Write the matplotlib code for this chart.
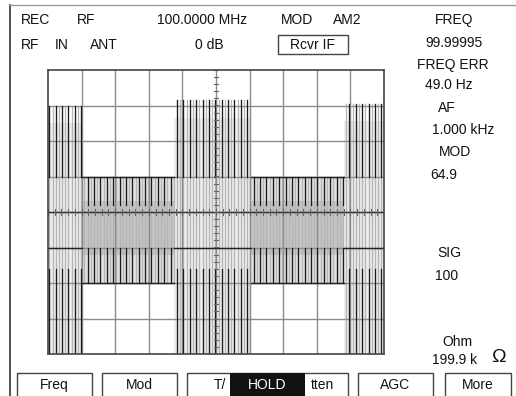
import numpy as np
import matplotlib
matplotlib.use('Agg')
import matplotlib.pyplot as plt
from matplotlib.patches import Rectangle

# AM envelope of the displayed trace (graticule divisions)
seg_edges = [0.0, 1.01, 3.75, 6.04, 8.81, 10.0]
seg_top = [3.0, 0.99, 3.15, 0.99, 3.05]
seg_bottom = [-3.97, -2.0, -3.97, -2.0, -3.97]
seg_high = [True, False, True, False, True]

# screen texts
header_row1 = ["REC", "RF", "100.0000 MHz", "MOD", "AM2"]
header_row2 = ["RF", "IN", "ANT", "0 dB"]
if_button = "Rcvr IF"
readouts = ["FREQ", "99.99995", "FREQ ERR", "49.0 Hz", "AF", "1.000 kHz",
            "MOD", "64.9", "SIG", "100", "Ohm", "199.9 k"]
softkeys = ["Freq", "Mod", "AGC", "More"]

W, H = 516, 396
FONT = 'Liberation Sans'
TXT = '#111111'

fig = plt.figure(figsize=(W / 100, H / 100), dpi=100)
fig.patch.set_facecolor('white')

# overlay in screen pixels for the text and soft keys
bg = fig.add_axes([0, 0, 1, 1])
bg.set_xlim(0, W)
bg.set_ylim(H, 0)
bg.axis('off')

bg.plot([10, 10], [5, H], color='#333333', lw=1.2)
bg.plot([10, W], [5, 5], color='#999999', lw=1.0)

for s, x in zip(header_row1, [21, 77, 157, 281, 333]):
    bg.text(x, 20, s, ha='left', va='center', fontsize=10, family=FONT, color=TXT)
for s, x in zip(header_row2, [21, 55, 90, 195]):
    bg.text(x, 45, s, ha='left', va='center', fontsize=10, family=FONT, color=TXT)
bg.add_patch(Rectangle((278, 35), 70, 19, fill=False, ec='#444444', lw=1.0))
bg.text(313, 45, if_button, ha='center', va='center', fontsize=10, family=FONT, color=TXT)

ro_x = [435, 425, 417, 425, 438, 432, 439, 430, 437, 435, 442, 432]
ro_y = [20, 43, 65, 85, 108, 130, 152, 175, 253, 276, 342, 360]
for s, x, y in zip(readouts, ro_x, ro_y):
    bg.text(x, y, s, ha='left', va='center', fontsize=10, family=FONT, color=TXT)
bg.text(498, 358, "\u03a9", ha='center', va='center', fontsize=14, family=FONT, color=TXT)

# soft keys
key_x = [(17, 92), (102, 177), (358, 433), (445, 511)]
for s, (x0, x1) in zip(softkeys, key_x):
    bg.add_patch(Rectangle((x0, 373), x1 - x0, 30, fill=False, ec='#444444', lw=1.0))
    bg.text((x0 + x1) / 2, 385, s, ha='center', va='center', fontsize=10, family=FONT, color=TXT)
bg.add_patch(Rectangle((187, 373), 161, 30, fill=False, ec='#444444', lw=1.0))
bg.add_patch(Rectangle((230, 373), 75, 30, color='#111111', lw=0))
bg.text(220, 385, "T/", ha='center', va='center', fontsize=10, family=FONT, color=TXT)
bg.text(267, 385, "HOLD", ha='center', va='center', fontsize=10, family=FONT, color='white')
bg.text(322, 385, "tten", ha='center', va='center', fontsize=10, family=FONT, color=TXT)

# graticule
ax = fig.add_axes([48 / W, (H - 354) / H, 336 / W, 284 / H])
ax.set_xlim(0, 10)
ax.set_ylim(-4, 4)
ax.set_xticks([])
ax.set_yticks([])
for sp in ax.spines.values():
    sp.set_color('#444444')
    sp.set_linewidth(1.2)
    sp.set_zorder(6)
for gx in range(1, 10):
    ax.axvline(gx, color='#8c8c8c', lw=1.0, zorder=3.5)
for gy in range(-3, 4):
    ax.axhline(gy, color='#8c8c8c', lw=1.0, zorder=3.5)
for t in np.arange(-4, 4.01, 0.2):
    ax.plot([4.93, 5.07], [t, t], color='#666666', lw=0.8, zorder=6)
for t in np.arange(0, 10.01, 0.2):
    ax.plot([t, t], [-0.08, 0.08], color='#666666', lw=0.8, zorder=6)

# grey wash under the trace
for x0, x1, top, bot, high in zip(seg_edges[:-1], seg_edges[1:], seg_top, seg_bottom, seg_high):
    if high:
        ax.fill_between([x0, x1], bot, top - 0.5, color='#ececec', lw=0, zorder=2)
    else:
        ax.fill_between([x0, x1], bot, top, color='#e0e0e0', lw=0, zorder=2)
        ax.fill_between([x0, x1], -1.2, 0.3, color='#c4c4c4', lw=0, zorder=2)

# carrier lines
step = 0.095
for i, x in enumerate(np.arange(0.04, 10, step)):
    k = np.searchsorted(seg_edges, x) - 1
    top, bot = seg_top[k], seg_bottom[k]
    ax.plot([x, x], [bot, top], color='#b4b4b4', lw=0.9, zorder=3)
    if i % 2 == 0:
        if seg_high[k]:
            ax.plot([x, x], [1.0, top], color='#1a1a1a', lw=0.9, zorder=4)
            ax.plot([x, x], [bot, -1.6], color='#1a1a1a', lw=0.9, zorder=4)
        else:
            ax.plot([x, x], [0.2, top], color='#1a1a1a', lw=0.9, zorder=4)
            ax.plot([x, x], [bot, -1.0], color='#1a1a1a', lw=0.9, zorder=4)

for x0, x1, top, bot, high in zip(seg_edges[:-1], seg_edges[1:], seg_top, seg_bottom, seg_high):
    if high:
        ax.plot([x0, x1], [-1, -1], color='#222222', lw=1.0, zorder=5)
    else:
        ax.plot([x0, x1], [top, top], color='#222222', lw=1.0, zorder=5)
        ax.plot([x0, x1], [bot, bot], color='#222222', lw=1.0, zorder=5)
ax.axhline(0, color='#333333', lw=1.0, zorder=5)

fig.savefig('out.png', dpi=100, facecolor='white')
